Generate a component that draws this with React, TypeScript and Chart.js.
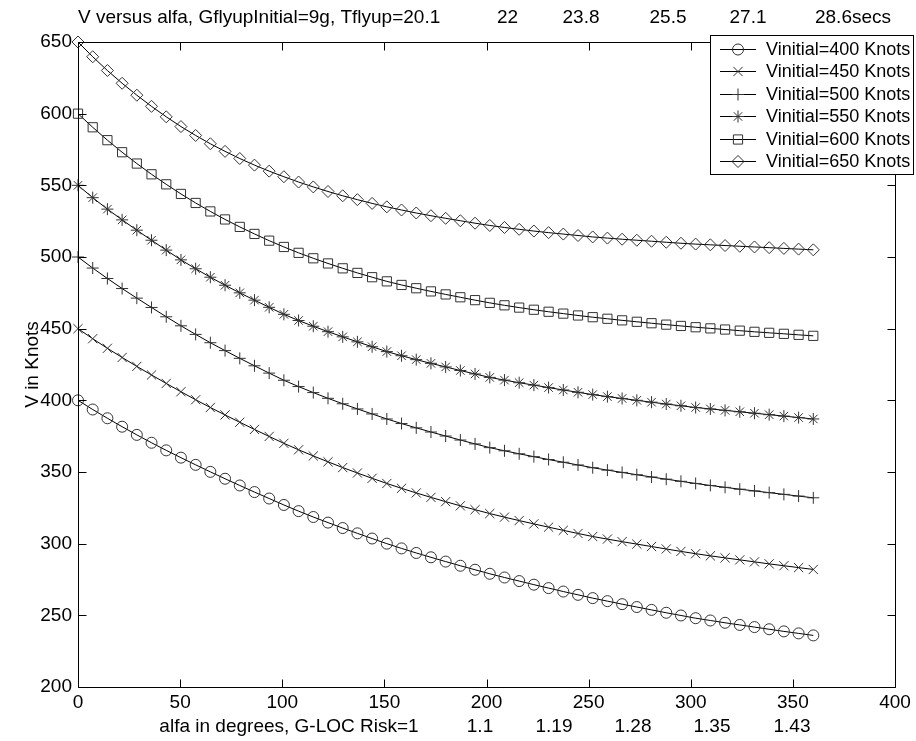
import React, { useEffect, useRef } from 'react';
import { Chart, registerables } from 'chart.js';

Chart.register(...registerables);

// ---- data ----
const alfa = [0, 7.2, 14.4, 21.6, 28.8, 36, 43.2, 50.4, 57.6, 64.8, 72, 79.2, 86.4, 93.6, 100.8, 108, 115.2, 122.4, 129.6, 136.8, 144, 151.2, 158.4, 165.6, 172.8, 180, 187.2, 194.4, 201.6, 208.8, 216, 223.2, 230.4, 237.6, 244.8, 252, 259.2, 266.4, 273.6, 280.8, 288, 295.2, 302.4, 309.6, 316.8, 324, 331.2, 338.4, 345.6, 352.8, 360];

const v400 = [400, 393.6, 387.5, 381.6, 375.9, 370.4, 365.1, 360.0, 355.0, 350.1, 345.3, 340.6, 336.0, 331.5, 327.0, 322.7, 318.6, 314.7, 310.9, 307.2, 303.6, 300.0, 296.7, 293.5, 290.5, 287.5, 284.6, 281.8, 279.0, 276.4, 273.9, 271.4, 269.0, 266.6, 264.3, 262.0, 259.9, 257.8, 255.8, 253.8, 251.8, 249.9, 248.0, 246.4, 244.8, 243.3, 241.8, 240.3, 238.8, 237.4, 236.0];
const v450 = [450, 443.0, 436.3, 429.9, 423.7, 417.7, 411.8, 406.0, 400.4, 395.0, 389.8, 384.7, 379.7, 374.8, 370.0, 365.5, 361.2, 357.1, 353.1, 349.3, 345.6, 342.0, 338.6, 335.4, 332.3, 329.3, 326.4, 323.7, 321.0, 318.5, 316.1, 313.8, 311.5, 309.3, 307.1, 305.0, 303.2, 301.4, 299.7, 298.0, 296.3, 294.6, 293.0, 291.5, 290.1, 288.7, 287.3, 285.9, 284.6, 283.3, 282.0];
const v500 = [500, 492.3, 485.0, 478.0, 471.3, 464.8, 458.3, 452.0, 446.0, 440.2, 434.7, 429.3, 424.1, 419.0, 414.0, 409.6, 405.4, 401.4, 397.6, 394.0, 390.5, 387.0, 383.8, 380.8, 377.9, 375.1, 372.3, 369.6, 367.0, 364.8, 362.7, 360.7, 358.7, 356.8, 354.9, 353.0, 351.3, 349.7, 348.1, 346.5, 345.0, 343.5, 342.0, 340.6, 339.3, 338.0, 336.8, 335.6, 334.4, 333.2, 332.0];
const v550 = [550, 541.4, 533.4, 525.9, 518.7, 511.7, 504.8, 498.0, 491.8, 485.9, 480.3, 475.0, 469.9, 464.9, 460.0, 455.7, 451.7, 447.9, 444.3, 440.8, 437.4, 434.0, 431.1, 428.4, 425.8, 423.3, 420.8, 418.4, 416.0, 414.1, 412.3, 410.6, 408.9, 407.2, 405.6, 404.0, 402.6, 401.3, 400.0, 398.7, 397.4, 396.2, 395.0, 394.0, 393.0, 392.0, 391.0, 390.0, 389.0, 388.0, 387.0];
const v600 = [600, 590.5, 581.5, 573.1, 565.2, 557.7, 550.7, 544.0, 537.7, 531.8, 526.2, 521.0, 516.1, 511.4, 507.0, 502.9, 499.1, 495.5, 492.1, 488.9, 485.9, 483.0, 480.5, 478.2, 476.0, 473.9, 471.9, 469.9, 468.0, 466.3, 464.7, 463.2, 461.8, 460.5, 459.2, 458.0, 456.9, 455.8, 454.8, 453.8, 452.8, 451.9, 451.0, 450.2, 449.4, 448.6, 447.8, 447.1, 446.4, 445.7, 445.0];
const v650 = [650, 639.7, 630.1, 621.2, 612.9, 605.1, 597.8, 591.0, 584.8, 579.0, 573.7, 568.7, 564.1, 559.9, 556.0, 552.3, 548.9, 545.7, 542.7, 540.0, 537.4, 535.0, 532.8, 530.7, 528.8, 527.0, 525.3, 523.6, 522.0, 520.6, 519.3, 518.1, 517.0, 516.0, 515.0, 514.0, 513.2, 512.4, 511.7, 511.0, 510.3, 509.6, 509.0, 508.5, 508.0, 507.5, 507.0, 506.5, 506.0, 505.5, 505.0];

const seriesLabels = ['Vinitial=400 Knots', 'Vinitial=450 Knots', 'Vinitial=500 Knots', 'Vinitial=550 Knots', 'Vinitial=600 Knots', 'Vinitial=650 Knots'];
const seriesValues = [v400, v450, v500, v550, v600, v650];

const titleMain = 'V versus alfa, GflyupInitial=9g, Tflyup=20.1';
const titleTimes = ['22', '23.8', '25.5', '27.1', '28.6secs'];
const xLabelMain = 'alfa in degrees, G-LOC Risk=1';
const gLocRisk = ['1.1', '1.19', '1.28', '1.35', '1.43'];
const yLabel = 'V in Knots';

// ---- styles / layout ----
const FAMILY = "'Liberation Sans', Arial, Helvetica, sans-serif";
const FONT_SIZE = 19;
const LEGEND_FONT_SIZE = 18;
const markerStyles = ['circle', 'crossRot', 'cross', 'star', 'rect', 'rectRot'];
const markerRadius = [5.5, 6.5, 6, 6, 6.5, 6];
const MARKER_COLOR = '#333';
const titleTimesX = [507.5, 581, 668, 748, 853];
const gLocX = [480, 554, 633, 712, 792];
const TICK_LEN = 8;

function drawMarker(ctx: CanvasRenderingContext2D, style: string, r: number, x: number, y: number) {
  ctx.beginPath();
  const d = r * Math.SQRT1_2;
  switch (style) {
    case 'circle':
      ctx.arc(x, y, r, 0, Math.PI * 2);
      break;
    case 'cross':
      ctx.moveTo(x, y - r); ctx.lineTo(x, y + r);
      ctx.moveTo(x - r, y); ctx.lineTo(x + r, y);
      break;
    case 'crossRot':
      ctx.moveTo(x - d, y - d); ctx.lineTo(x + d, y + d);
      ctx.moveTo(x - d, y + d); ctx.lineTo(x + d, y - d);
      break;
    case 'star':
      ctx.moveTo(x, y - r); ctx.lineTo(x, y + r);
      ctx.moveTo(x - r, y); ctx.lineTo(x + r, y);
      ctx.moveTo(x - d, y - d); ctx.lineTo(x + d, y + d);
      ctx.moveTo(x - d, y + d); ctx.lineTo(x + d, y - d);
      break;
    case 'rect':
      ctx.rect(x - d, y - d, 2 * d, 2 * d);
      break;
    case 'rectRot':
      ctx.moveTo(x - r, y); ctx.lineTo(x, y - r); ctx.lineTo(x + r, y); ctx.lineTo(x, y + r);
      ctx.closePath();
      break;
  }
  ctx.stroke();
}

const decorPlugin = {
  id: 'matlabDecor',
  afterDraw(chart: any) {
    const { ctx, chartArea: ca, scales } = chart;
    ctx.save();
    ctx.strokeStyle = '#000';
    ctx.lineWidth = 1;
    const L = Math.round(ca.left) + 0.5;
    const R = Math.round(ca.right) + 0.5;
    const T = Math.round(ca.top) + 0.5;
    const B = Math.round(ca.bottom) + 0.5;
    ctx.beginPath();
    ctx.rect(L, T, R - L, B - T);
    // inward ticks
    scales.x.ticks.forEach((t: any) => {
      const px = Math.round(scales.x.getPixelForValue(t.value)) + 0.5;
      ctx.moveTo(px, B); ctx.lineTo(px, B - TICK_LEN);
      ctx.moveTo(px, T); ctx.lineTo(px, T + TICK_LEN);
    });
    scales.y.ticks.forEach((t: any) => {
      const py = Math.round(scales.y.getPixelForValue(t.value)) + 0.5;
      ctx.moveTo(L, py); ctx.lineTo(L + TICK_LEN, py);
      ctx.moveTo(R, py); ctx.lineTo(R - TICK_LEN, py);
    });
    ctx.stroke();

    // title & xlabel
    ctx.fillStyle = '#000';
    ctx.font = `${FONT_SIZE}px ${FAMILY}`;
    ctx.textBaseline = 'alphabetic';
    ctx.textAlign = 'left';
    ctx.fillText(titleMain, L - 0.5, 23);
    ctx.textAlign = 'center';
    titleTimes.forEach((s, i) => ctx.fillText(s, titleTimesX[i], 23));
    const xLabelCenter = 289;
    ctx.fillText(xLabelMain, xLabelCenter, 732);
    gLocRisk.forEach((s, i) => ctx.fillText(s, gLocX[i], 732));

    // legend
    const bx = 710.5, by = 35.5, bw = 203, bh = 139;
    ctx.fillStyle = '#fff';
    ctx.fillRect(bx, by, bw, bh);
    ctx.strokeStyle = '#000';
    ctx.strokeRect(bx, by, bw, bh);
    ctx.font = `${LEGEND_FONT_SIZE}px ${FAMILY}`;
    ctx.textAlign = 'left';
    ctx.textBaseline = 'middle';
    chart.data.datasets.forEach((ds: any, i: number) => {
      const ry = Math.round(49 + i * 22.4) + 0.5;
      ctx.strokeStyle = '#000';
      ctx.beginPath();
      ctx.moveTo(720, ry); ctx.lineTo(756, ry);
      ctx.stroke();
      ctx.strokeStyle = MARKER_COLOR;
      drawMarker(ctx, ds.pointStyle, ds.pointRadius, 738, ry);
      ctx.fillStyle = '#000';
      ctx.fillText(ds.label, 766, ry + 1);
    });
    ctx.restore();
  },
};

export default function App() {
  const ref = useRef<HTMLCanvasElement | null>(null);
  useEffect(() => {
    if (!ref.current) return;
    Chart.defaults.color = '#000';
    const font = { family: FAMILY, size: FONT_SIZE };
    const chart = new Chart(ref.current, {
      type: 'line',
      data: {
        datasets: seriesValues.map((vals, i) => ({
          label: seriesLabels[i],
          data: alfa.map((a, j) => ({ x: a, y: vals[j] })),
          borderColor: '#000',
          borderWidth: 1,
          pointStyle: markerStyles[i],
          pointRadius: markerRadius[i],
          pointBorderColor: MARKER_COLOR,
          pointBackgroundColor: 'rgba(0,0,0,0)',
          pointBorderWidth: 1,
          tension: 0,
          fill: false,
          clip: false,
        })),
      },
      options: {
        responsive: false,
        animation: false,
        events: [],
        layout: { padding: { top: 42, right: 21, left: 0, bottom: 0 } },
        plugins: {
          legend: { display: false },
          title: { display: false },
          tooltip: { enabled: false },
        },
        scales: {
          x: {
            type: 'linear',
            min: 0,
            max: 400,
            ticks: { stepSize: 50, padding: 4, font, color: '#000', maxRotation: 0, autoSkip: false },
            grid: { display: false, drawTicks: false },
            border: { display: false },
            afterFit: (s: any) => { s.height = 54; },
          },
          y: {
            type: 'linear',
            min: 200,
            max: 650,
            ticks: { stepSize: 50, padding: 6, font, color: '#000' },
            grid: { display: false, drawTicks: false },
            border: { display: false },
            title: { display: true, text: yLabel, font, color: '#000', padding: { top: 21, bottom: 0 } },
            afterFit: (s: any) => { s.width = 78; },
          },
        },
      } as any,
      plugins: [decorPlugin],
    });
    return () => chart.destroy();
  }, []);
  return (
    <div style={{ position: 'absolute', left: 0, top: 0, width: 916, height: 741, background: '#fff' }}>
      <canvas ref={ref} width={916} height={741} style={{ display: 'block' }} />
    </div>
  );
}
